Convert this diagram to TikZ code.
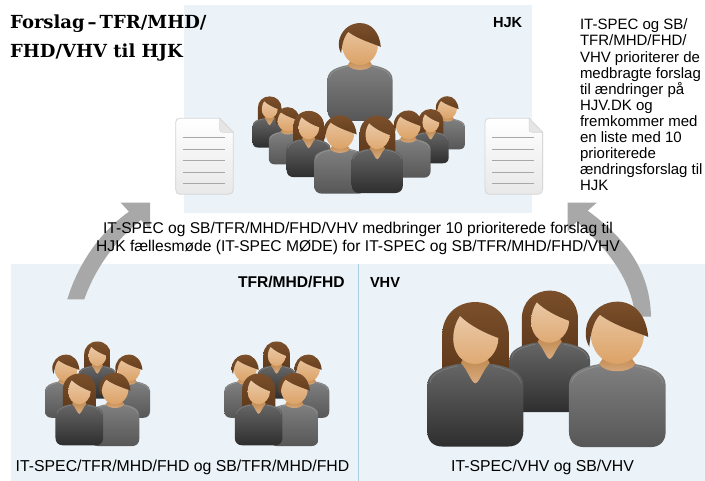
\documentclass[tikz,border=0pt]{standalone}
\usepackage{fontspec}
\setmainfont{Liberation Sans}
\newfontfamily\slabfont{DejaVu Serif}
\definecolor{panelblue}{HTML}{EBF3F8}
\definecolor{dividerblue}{HTML}{A9CCE0}
\definecolor{arrowgray}{HTML}{A8A8A8}
\definecolor{hairtop}{HTML}{7B4F2A}
\definecolor{hairbot}{HTML}{5F3A1C}
\definecolor{facetop}{HTML}{EAC8A6}
\definecolor{facebot}{HTML}{DCA266}
\definecolor{neckA}{HTML}{BD8549}
\definecolor{neckB}{HTML}{D9AB80}
\tikzset{
  x=1pt,y=-1pt,
  panel/.style={fill=panelblue,draw=none},
  bigarrow/.style={fill=arrowgray,draw=none},
  bodytxt/.style={inner sep=0pt,outer sep=0pt,text=black,font=\fontsize{15.6}{18.6}\selectfont},
  captxt/.style={inner sep=0pt,outer sep=0pt,text=black,font=\fontsize{15.8}{18.6}\selectfont},
  boldtxt/.style={inner sep=0pt,outer sep=0pt,text=black,font=\fontsize{14.6}{16}\selectfont\bfseries},
  titletxt/.style={anchor=base west,inner sep=0pt,font=\slabfont\fontsize{18}{28}\selectfont\bfseries},
  hairfill/.style={top color=hairtop,bottom color=hairbot,draw=none},
  skinfill/.style={top color=facetop,bottom color=facebot,draw=none},
  neckfill/.style={top color=neckA,bottom color=neckB,draw=none},
  lightbody/.style={top color=black!50,bottom color=black!66,draw=none},
  darkbody/.style={top color=black!60,bottom color=black!82,draw=none},
  docline/.style={draw=black!34,line width=1pt},
}
\newcommand{\bodypath}[1]{%
  \path[#1] (-50,22) .. controls (-50,9) and (-36,3) .. (-18,0) -- (18,0) .. controls (36,3) and (50,9) .. (50,22) -- (50,70) .. controls (50,80) and (44,86) .. (34,86) -- (-34,86) .. controls (-44,86) and (-50,80) .. (-50,70) -- cycle;
  \draw[white,opacity=.18,line width=.6pt] (-47,20) .. controls (-47,11) and (-34,5) .. (-18,2);
  \draw[white,opacity=.18,line width=.6pt] (47,20) .. controls (47,11) and (34,5) .. (18,2);}
% man: centre x, body top y, body width, body style
\newcommand{\manfig}[4]{\begin{scope}[shift={(#1,#2)},scale=#3/100]
  \bodypath{#4}
  \path[neckfill] (-19,0) .. controls (-13,10) and (13,10) .. (19,0) -- (12,-10) -- (-12,-10) -- cycle;
  \path[skinfill] (0,-31) circle[x radius=27.5,y radius=31];
  \path[hairfill] (-29,-18) .. controls (-34,-26) and (-33,-36) .. (-31,-42) .. controls (-25,-58) and (-12,-64.5) .. (0,-64.5) .. controls (18,-64.5) and (30,-50) .. (32,-28) .. controls (20,-33) and (-4,-40) .. (-18,-51) .. controls (-25,-44) and (-28,-30) .. (-29,-18) -- cycle;
\end{scope}}
\newcommand{\womanfig}[4]{\begin{scope}[shift={(#1,#2)},scale=#3/100]
  \path[hairfill] (-34.5,6) -- (-34.5,-30) .. controls (-34.5,-50) and (-20,-64.5) .. (0,-64.5) .. controls (20,-64.5) and (35,-50) .. (35,-30) -- (35,6) -- cycle;
  \bodypath{#4}
  \path[neckfill] (-15,-1) .. controls (-8,6) and (-4,20) .. (0,20) .. controls (4,20) and (8,6) .. (15,-1) -- (10,-10) -- (-10,-10) -- cycle;
  \path[top color=facetop,bottom color=facebot!80!facetop,draw=none] (-16,-50) .. controls (-6,-40) and (10,-32) .. (24,-27) .. controls (24,-12) and (12,0) .. (0,0) .. controls (-14,0) and (-23,-12) .. (-23,-26) .. controls (-23,-36) and (-20,-44) .. (-16,-50) -- cycle;
\end{scope}}
% document icon: left x
\newcommand{\docfig}[1]{\begin{scope}[shift={(#1,118.3)}]
  \path[draw=black!16,line width=.8pt,top color=white,bottom color=black!9] (4,0) -- (44,0) -- (57.6,14) -- (57.6,71) .. controls (57.6,74) and (56,76) .. (53,76) -- (4,76) .. controls (1.5,76) and (0,74) .. (0,71) -- (0,4) .. controls (0,1.5) and (1.5,0) .. (4,0) -- cycle;
  \path[fill=black!10,draw=black!16,line width=.5pt] (44,0) -- (44,11) .. controls (44,13) and (45,14) .. (47,14) -- (57.6,14) -- cycle;
  \foreach \ly in {19.4,31,42.4,54,65.4} \draw[docline] (7,\ly) -- (49.3,\ly);
\end{scope}}
\begin{document}
\begin{tikzpicture}
\useasboundingbox (0,0) rectangle (705,481);
\fill[white] (0,0) rectangle (705,481);
% panels
\path[panel] (184,5) rectangle (531.7,212.7);
\path[panel] (11,264) rectangle (705,481);
\draw[dividerblue,line width=.9pt] (358.2,264) -- (358.2,481);
% arrows
\path[bigarrow] (67.3,299.3) .. controls (78,264) and (100,232) .. (129,211.7) -- (120.7,202.7) -- (150,202.7) -- (150,229.3) -- (141,220) .. controls (118,238) and (96,266) .. (84.3,299.3) -- cycle;
\path[bigarrow] (651,316.7) .. controls (650,270) and (625,238) .. (587.7,210.7) -- (596.7,202.7) -- (567.7,202.7) -- (567.7,231.7) -- (576.7,221.7) .. controls (607,248) and (632,280) .. (635,316.7) -- cycle;
% top group
\manfig{360}{65}{65}{lightbody}
\womanfig{269.6}{118.3}{34}{darkbody}
\manfig{447.3}{119}{35.3}{lightbody}
\womanfig{430.7}{132.3}{36}{darkbody}
\manfig{287.8}{131.7}{38}{lightbody}
\manfig{408.3}{139.3}{44.7}{lightbody}
\womanfig{308.7}{139.3}{44}{darkbody}
\manfig{340}{149}{52}{lightbody}
\womanfig{377.3}{149}{51.3}{darkbody}
% documents
\docfig{175.7}
\docfig{485}
% bottom left groups
\foreach \gx in {0,179.3}{
  \womanfig{97.3+\gx}{366}{38}{darkbody}
  \manfig{66+\gx}{381.7}{42}{lightbody}
  \manfig{129+\gx}{381.7}{42}{lightbody}
  \manfig{115+\gx}{404.3}{48.7}{lightbody}
  \womanfig{79.3+\gx}{404.3}{47.7}{darkbody}
}
% bottom right group
\womanfig{549.7}{342.7}{80.7}{darkbody}
\womanfig{475.3}{364}{96}{darkbody}
\manfig{617.3}{364}{96.7}{lightbody}
% texts
\node[titletxt] (title) at (10,29) {Forslag\,–\,TFR/MHD/};
\node[titletxt] (title2) at (10,58) {FHD/VHV til HJK};
\node[boldtxt,anchor=base west] (hjk) at (493,28) {HJK};
\node[boldtxt,anchor=base west,font=\fontsize{15.6}{16}\selectfont\bfseries] (tfr) at (238,287.7) {TFR/MHD/FHD};
\node[boldtxt,anchor=base west] (vhv) at (370,287.7) {VHV};
\node[bodytxt,anchor=north west,align=left,font=\fontsize{15}{16.1}\selectfont] (prior) at (580,19) {IT-SPEC og SB/\\TFR/MHD/FHD/\\VHV prioriterer de\\medbragte forslag\\til ændringer på\\HJV.DK og\\fremkommer med\\en liste med 10\\prioriterede\\ændringsforslag til\\HJK};
\node[bodytxt,anchor=north,align=center] (mid) at (358,222) {IT-SPEC og SB/TFR/MHD/FHD/VHV medbringer 10 prioriterede forslag til\\HJK fællesmøde (IT-SPEC MØDE) for IT-SPEC og SB/TFR/MHD/FHD/VHV};
\node[captxt,anchor=base] (capl) at (182.5,471.7) {IT-SPEC/TFR/MHD/FHD og SB/TFR/MHD/FHD};
\node[captxt,anchor=base] (capr) at (542.5,471.7) {IT-SPEC/VHV og SB/VHV};
\end{tikzpicture}
\end{document}
